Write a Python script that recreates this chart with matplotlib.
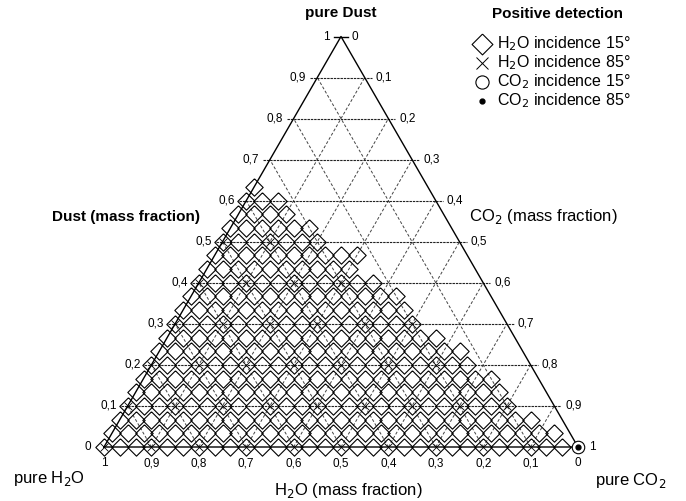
import numpy as np
import matplotlib
matplotlib.use("Agg")
import matplotlib.pyplot as plt

plt.rcParams['font.family'] = ['Liberation Sans', 'DejaVu Sans']

# grid ticks (mass fraction)
ticks = [0.1, 0.2, 0.3, 0.4, 0.5, 0.6, 0.7, 0.8, 0.9]
tick_labels = ['0,1', '0,2', '0,3', '0,4', '0,5', '0,6', '0,7', '0,8', '0,9']

# H2O 15 deg positive detections, sampled every 1/30 in mass fraction:
# for each dust row, the lowest H2O fraction reached (row runs up to the left edge)
step = 1 / 30
row_dust = [0, 1, 2, 3, 4, 5, 6, 7, 8, 9, 10, 11, 12, 13, 14, 15, 16, 17, 18, 19]
row_min_h2o = [1, 1, 2, 3, 3, 3, 4, 4, 5, 6, 6, 6, 7, 8, 7, 9, 9, 10, 10, 11]

# H2O 85 deg positive detections (dust, H2O)
x85_dust = [0.0, 0.0, 0.0, 0.0, 0.0, 0.0, 0.0, 0.0, 0.0, 0.0,
            0.1, 0.1, 0.1, 0.1, 0.1, 0.1, 0.1, 0.1, 0.1,
            0.2, 0.2, 0.2, 0.2, 0.2, 0.2, 0.2,
            0.3, 0.3, 0.3, 0.3, 0.3, 0.3,
            0.4, 0.4, 0.4, 0.4,
            0.5, 0.5]
x85_h2o = [1.0, 0.9, 0.8, 0.7, 0.6, 0.5, 0.4, 0.3, 0.2, 0.1,
           0.9, 0.8, 0.7, 0.6, 0.5, 0.4, 0.3, 0.2, 0.1,
           0.8, 0.7, 0.6, 0.5, 0.4, 0.3, 0.2,
           0.7, 0.6, 0.5, 0.4, 0.3, 0.2,
           0.6, 0.5, 0.4, 0.3,
           0.5, 0.4]

# CO2 detections (dust, H2O)
co2_15_dust, co2_15_h2o = [0.0], [0.0]
co2_85_dust, co2_85_h2o = [0.0], [0.0]

S3 = np.sqrt(3) / 2


def tern(dust, h2o):
    dust = np.asarray(dust, float)
    h2o = np.asarray(h2o, float)
    co2 = 1 - dust - h2o
    return co2 + dust / 2, dust * S3


fig = plt.figure(figsize=(6.86, 5.01), dpi=100)
ax = fig.add_axes([0, 0, 1, 1])
PX = 474.0
ax.set_xlim(-104 / PX, (686 - 104) / PX)
ax.set_ylim(-54 / PX, (501 - 54) / PX)
ax.axis('off')

tk = 7 / PX  # tick overhang

# grid lines
for t in ticks:
    # constant dust (horizontal)
    xl, y = tern(t, 1 - t)
    xr, _ = tern(t, 0)
    ax.plot([xl - tk, xr + tk], [y, y], color='#222', lw=0.8,
            dashes=(2.2, 0.8), zorder=1)
    # constant H2O (parallel to right edge)
    xa, ya = tern(0, t)
    xb, yb = tern(1 - t, t)
    ax.plot([xa, xb], [ya, yb], color='#444', lw=0.7, dashes=(3, 2), zorder=1)
    # constant CO2 (parallel to left edge)
    xa, ya = tern(0, 1 - t)
    xb, yb = tern(1 - t, 0)
    ax.plot([xa, xb], [ya, yb], color='#444', lw=0.7, dashes=(3, 2), zorder=1)

# triangle
tx, ty = tern([0, 0, 1, 0], [1, 0, 0, 1])
ax.plot(tx, ty, color='black', lw=1.0, zorder=2)
ax.plot([0.5 - tk, 0.5 + tk], [S3, S3], color='black', lw=1.0)

# tick labels
fs = 8.5
for t, lab in zip(ticks, tick_labels):
    x, y = tern(t, 1 - t)
    ax.text(x - 11 / PX, y, lab, ha='right', va='center', fontsize=fs)
    x, y = tern(1 - t, 0)
    ax.text(x + 11 / PX, y, lab, ha='left', va='center', fontsize=fs)
    x, y = tern(0, t)
    ax.text(x, y - 16 / PX, lab, ha='center', va='center', fontsize=fs)
ax.text(-16 / PX, 0, '0', ha='center', va='center', fontsize=fs)
ax.text(1 + 14 / PX, 0, '1', ha='center', va='center', fontsize=fs)
ax.text(0, -16 / PX, '1', ha='center', va='center', fontsize=fs)
ax.text(1, -16 / PX, '0', ha='center', va='center', fontsize=fs)
ax.text(0.5 - 15 / PX, S3, '1', ha='center', va='center', fontsize=fs)
ax.text(0.5 + 14 / PX, S3, '0', ha='center', va='center', fontsize=fs)

# data points
diamond = [(0, 1), (1, 0), (0, -1), (-1, 0), (0, 1)]
pd, ph = [], []
for k, m in zip(row_dust, row_min_h2o):
    for j in range(m, 30 - k + 1):
        pd.append(k * step)
        ph.append(j * step)
x, y = tern(pd, ph)
ax.plot(x, y, ls='none', marker=diamond, ms=12.5, mfc='none', mec='black',
        mew=0.8, zorder=3)
x, y = tern(x85_dust, x85_h2o)
ax.plot(x, y, ls='none', marker='x', ms=6, mec='black', mew=0.6, zorder=4)
x, y = tern(co2_15_dust, co2_15_h2o)
ax.plot(x, y, ls='none', marker='o', ms=9, mfc='white', mec='black',
        mew=0.8, zorder=5)
x, y = tern(co2_85_dust, co2_85_h2o)
ax.plot(x, y, ls='none', marker='o', ms=3.5, color='black', zorder=6)


def px(xp, yp):
    return (xp - 104) / PX, (447 - yp) / PX


# titles
ax.text(*px(341, 13), 'pure Dust', ha='center', va='center', fontsize=11,
        fontweight='bold')
ax.text(*px(557, 14), 'Positive detection', ha='center', va='center',
        fontsize=11, fontweight='bold')
ax.text(*px(126, 217), 'Dust (mass fraction)', ha='center', va='center',
        fontsize=11, fontweight='bold')
ax.text(*px(543, 216), 'CO$_2$ (mass fraction)', ha='center', va='center',
        fontsize=12)
ax.text(*px(49, 478), 'pure H$_2$O', ha='center', va='center', fontsize=12)
ax.text(*px(348, 490), 'H$_2$O (mass fraction)', ha='center', va='center',
        fontsize=12)
ax.text(*px(631, 481), 'pure CO$_2$', ha='center', va='center', fontsize=12)

# legend
leg_y = [44, 63, 82, 101]
leg_txt = ['H$_2$O incidence 15°', 'H$_2$O incidence 85°',
           'CO$_2$ incidence 15°', 'CO$_2$ incidence 85°']
ax.plot(*px(482, leg_y[0]), marker=diamond, ms=15, mfc='none', mec='black',
        mew=0.8)
ax.plot(*px(482, leg_y[1]), marker='x', ms=8, mec='black', mew=0.7)
ax.plot(*px(482, leg_y[2]), marker='o', ms=9.5, mfc='none', mec='black',
        mew=0.8)
ax.plot(*px(482, leg_y[3]), marker='o', ms=3.5, color='black')
for yy, t in zip(leg_y, leg_txt):
    ax.text(*px(497, yy), t, ha='left', va='center', fontsize=11.5)

fig.savefig('out.png', dpi=100)
